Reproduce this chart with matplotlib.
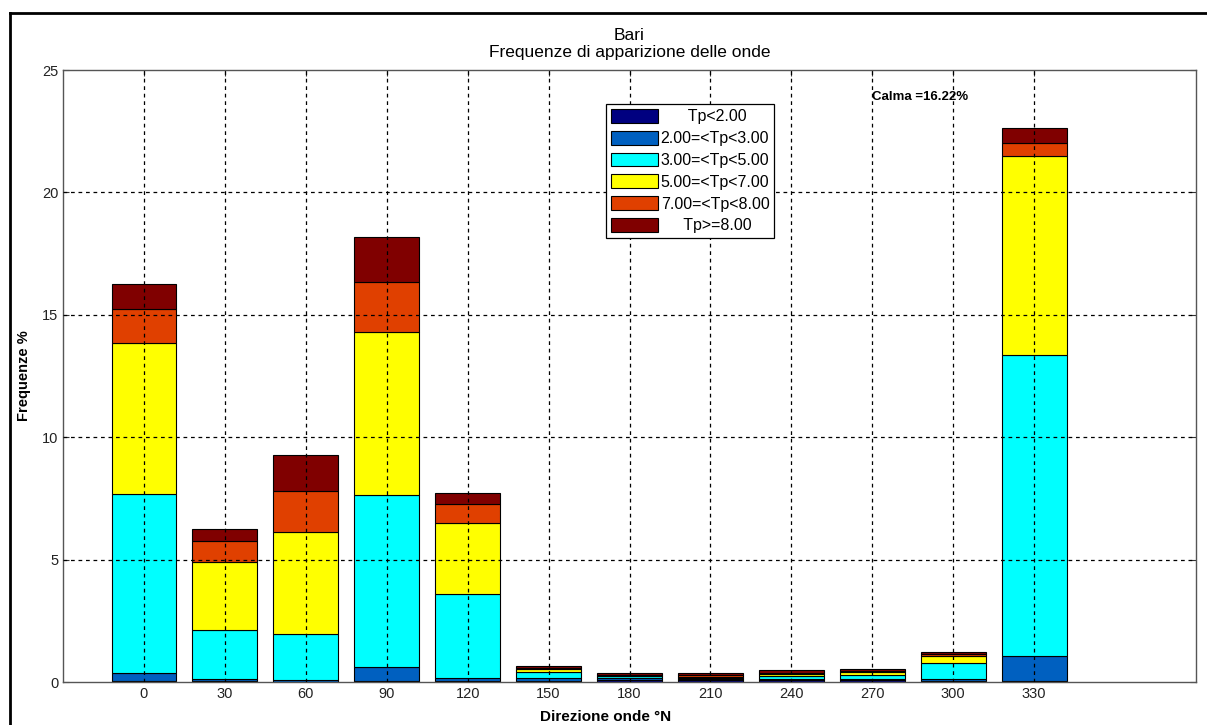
import matplotlib
matplotlib.use("Agg")
import matplotlib.pyplot as plt
from matplotlib.lines import Line2D
import numpy as np

plt.rcParams['font.family'] = ['Liberation Sans', 'DejaVu Sans']

# Wave direction sectors (°N)
directions = [0, 30, 60, 90, 120, 150, 180, 210, 240, 270, 300, 330]

# Occurrence frequency (%) per peak-period class
tp_lt2 = [0.05, 0.06, 0.02, 0.03, 0.03, 0.05, 0.07, 0.07, 0.09, 0.10, 0.04, 0.03]
tp_2_3 = [0.32, 0.05, 0.06, 0.60, 0.14, 0.10, 0.08, 0.05, 0.05, 0.04, 0.10, 1.05]
tp_3_5 = [7.31, 2.00, 1.89, 7.01, 3.43, 0.25, 0.08, 0.06, 0.10, 0.16, 0.62, 12.28]
tp_5_7 = [6.15, 2.80, 4.14, 6.66, 2.90, 0.12, 0.02, 0.04, 0.10, 0.12, 0.32, 8.13]
tp_7_8 = [1.42, 0.86, 1.68, 2.03, 0.77, 0.05, 0.02, 0.06, 0.03, 0.04, 0.08, 0.53]
tp_ge8 = [0.99, 0.49, 1.48, 1.85, 0.45, 0.10, 0.10, 0.08, 0.12, 0.06, 0.08, 0.61]

class_labels = ['      Tp<2.00', '2.00=<Tp<3.00', '3.00=<Tp<5.00',
                '5.00=<Tp<7.00', '7.00=<Tp<8.00', '     Tp>=8.00']
class_colors = ['#000080', '#0060C0', '#00FFFF', '#FFFF00', '#E04000', '#800000']

calma = 16.22
title_lines = ['Bari', 'Frequenze di apparizione delle onde']

series = [tp_lt2, tp_2_3, tp_3_5, tp_5_7, tp_7_8, tp_ge8]

W, H = 1207, 725
fig = plt.figure(figsize=(W / 100, H / 100), dpi=100)
ax = fig.add_axes([63 / W, 1 - 682 / H, (1196 - 63) / W, (682 - 70) / H])

bottom = np.zeros(len(directions))
for vals, col, lab in zip(series, class_colors, class_labels):
    ax.bar(directions, vals, width=24, bottom=bottom, color=col,
           edgecolor='black', linewidth=0.8, label=lab, zorder=2)
    bottom += np.array(vals)

ax.set_xlim(-30, 390)
ax.set_ylim(0, 25)
ax.set_xticks(directions)
ax.set_yticks([0, 5, 10, 15, 20, 25])

# dotted grid drawn above the bars, MATLAB style
for x in directions:
    ax.add_line(Line2D([x, x], [0, 25], color='black', lw=0.9,
                       linestyle=(0, (3, 3)), zorder=3))
for y in [5, 10, 15, 20]:
    ax.add_line(Line2D([-30, 390], [y, y], color='black', lw=0.9,
                       linestyle=(0, (3, 3)), zorder=3))

ax.tick_params(direction='in', top=True, right=True, labelsize=10.5,
               length=4, width=0.8, colors='#333333', labelcolor='#222222')
for s in ax.spines.values():
    s.set_color('#555555')
    s.set_linewidth(1.0)

ax.set_title('\n'.join(title_lines), fontsize=12.5, pad=9, linespacing=1.25)
ax.set_ylabel('Frequenze %', fontsize=10.5, fontweight='bold', labelpad=8)
ax.set_xlabel('Direzione onde °N', fontsize=11, fontweight='bold')
ax.xaxis.set_label_coords((606 - 63) / 1133, -0.045)

ax.text(270, 23.9, 'Calma =%.2f%%' % calma, fontsize=9.5, fontweight='bold',
        va='center', ha='left', zorder=4)

leg = ax.legend(loc='upper left', bbox_to_anchor=((606 - 63) / 1133, (682 - 104) / 612),
                fontsize=11.5, frameon=True, fancybox=False, edgecolor='black',
                framealpha=1, handlelength=2.95, handleheight=0.95,
                labelspacing=0.4, borderpad=0.32, handletextpad=0.15,
                borderaxespad=0)
leg.get_frame().set_linewidth(0.9)
leg.set_zorder(5)

# outer frame of the figure window
fig.add_artist(Line2D([9.5 / W, 9.5 / W], [0, 1 - 12.5 / H], color='black',
                      lw=2, transform=fig.transFigure))
fig.add_artist(Line2D([9.5 / W, 1], [1 - 12.5 / H, 1 - 12.5 / H], color='black',
                      lw=2, transform=fig.transFigure))

fig.savefig('out.png', dpi=100)
